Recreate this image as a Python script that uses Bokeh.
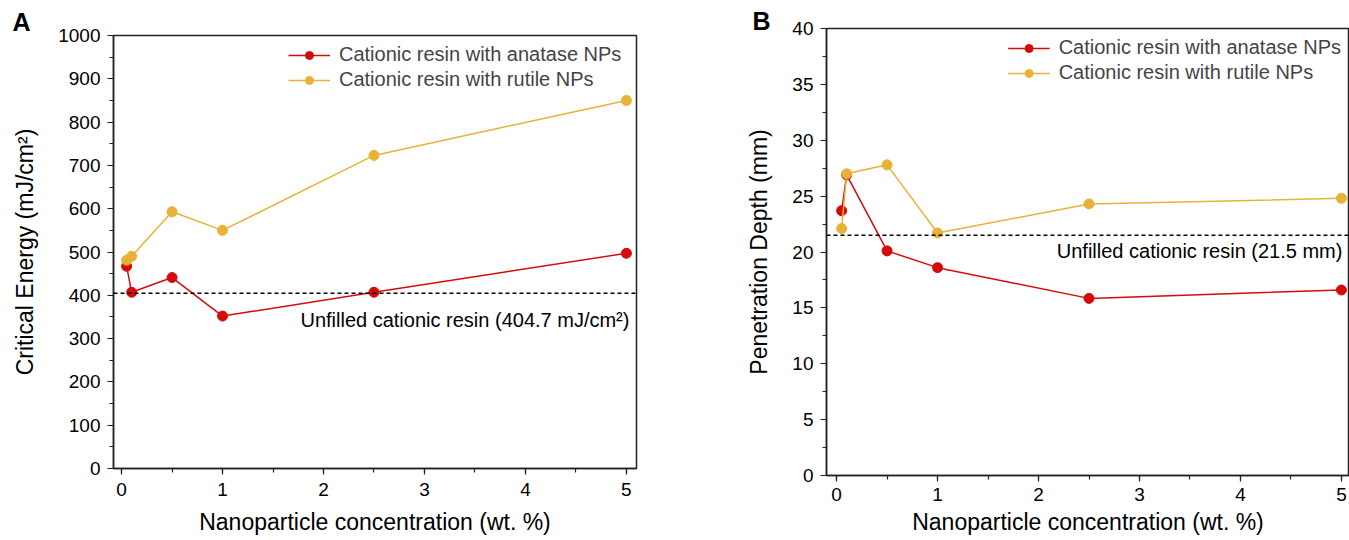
from bokeh.plotting import figure
from bokeh.models import Range1d, Span, Label, Legend, LegendItem, SingleIntervalTicker, Title
from bokeh.layouts import row
from bokeh.embed import file_html
from bokeh.resources import INLINE

conc = [0.05, 0.1, 0.5, 1, 2.5, 5]
energy_anatase = [467, 407, 441, 352, 407, 497]
energy_rutile = [481, 490, 593, 550, 723, 850]
depth_anatase = [23.7, 26.9, 20.1, 18.6, 15.85, 16.6]
depth_rutile = [22.1, 27.0, 27.8, 21.7, 24.3, 24.8]
ref_energy = 404.7
ref_depth = 21.5
series_names = ["Cationic resin with anatase NPs", "Cationic resin with rutile NPs"]

RED = "#D30B0B"
YEL = "#E9B236"
FONT = "Liberation Sans"


def style(p, xlabel, ylabel, yint, xls, xas):
    p.outline_line_color = "#222222"
    p.outline_line_width = 1.5
    p.xgrid.visible = False
    p.ygrid.visible = False
    p.background_fill_color = "white"
    p.border_fill_color = "white"
    p.xaxis.ticker = SingleIntervalTicker(interval=1, num_minor_ticks=2)
    p.yaxis.ticker = SingleIntervalTicker(interval=yint, num_minor_ticks=2)
    for ax in (p.xaxis[0], p.yaxis[0]):
        ax.axis_line_color = "#222222"
        ax.axis_line_width = 1.5
        ax.major_tick_in = 0
        ax.major_tick_out = 6
        ax.minor_tick_in = 0
        ax.minor_tick_out = 4
        ax.major_tick_line_color = "#222222"
        ax.minor_tick_line_color = "#222222"
        ax.major_tick_line_width = 1.2
        ax.minor_tick_line_width = 1.2
        ax.major_label_text_font = FONT
        ax.major_label_text_font_size = "19px"
        ax.major_label_text_color = "black"
        ax.axis_label_text_font = FONT
        ax.axis_label_text_font_size = "23px"
        ax.axis_label_text_font_style = "normal"
        ax.axis_label_text_color = "black"
    p.xaxis.axis_label = xlabel
    p.yaxis.axis_label = ylabel
    p.xaxis.major_label_standoff = xls
    p.yaxis.major_label_standoff = 7
    p.xaxis.axis_label_standoff = xas
    p.yaxis.axis_label_standoff = 17


def make(ya, yr, ref, yrange, yint, ylabel, note, note_y, letter, letter_off, letter_lh,
         letter_so, xr, width, bl, br, bt, bb, leg_loc, xls, xas):
    p = figure(width=width, height=540, output_backend="svg", toolbar_location=None,
               x_range=Range1d(*xr), y_range=Range1d(*yrange), frame_align=False,
               min_border_left=bl, min_border_right=br, min_border_top=bt, min_border_bottom=bb)
    style(p, "Nanoparticle concentration (wt. %)", ylabel, yint, xls, xas)
    p.add_layout(Title(text=letter, align="left", offset=letter_off, standoff=letter_so,
                       text_font=FONT, text_font_size="25px", text_font_style="bold",
                       text_line_height=letter_lh, text_color="black"), "above")
    p.add_layout(Span(location=ref, dimension="width", line_color="black",
                      line_dash="4 3", line_width=1.3))
    l1 = p.line(conc, ya, line_color=RED, line_width=1.5)
    c1 = p.scatter(conc, ya, size=10, fill_color=RED, line_color=RED)
    l2 = p.line(conc, yr, line_color=YEL, line_width=1.5)
    c2 = p.scatter(conc, yr, size=10, fill_color=YEL, line_color=YEL)
    leg = Legend(items=[LegendItem(label=series_names[0], renderers=[l1, c1]),
                        LegendItem(label=series_names[1], renderers=[l2, c2])],
                 location=leg_loc, border_line_alpha=0, background_fill_alpha=0,
                 label_text_font=FONT, label_text_font_size="20px",
                 glyph_width=42, glyph_height=20, label_height=20, label_standoff=9,
                 spacing=2, padding=4, margin=4)
    p.add_layout(leg)
    p.add_layout(Label(x=xr[1] - 0.07, y=note_y, text=note, text_align="right",
                       text_baseline="middle", text_font=FONT, text_font_size="20px",
                       text_color="black"))
    return p


pA = make(energy_anatase, energy_rutile, ref_energy, (0, 1000), 100,
          "Critical Energy (mJ/cm²)", "Unfilled cationic resin (404.7 mJ/cm²)", 342,
          "A", -101, 1.2, 0, (-0.08, 5.1), 700, 113, 64, 35, 72, (171, 373), 8, 10)
pB = make(depth_anatase, depth_rutile, ref_depth, (0, 40), 5,
          "Penetration Depth (mm)", "Unfilled cationic resin (21.5 mm)", 20.1,
          "B", -74, 0.6, -12, (-0.1, 5.08), 649, 126, 0, 28, 65, "top_right", 6, 5)

layout = row(pA, pB)
open("out.html", "w").write(file_html(layout, INLINE))
